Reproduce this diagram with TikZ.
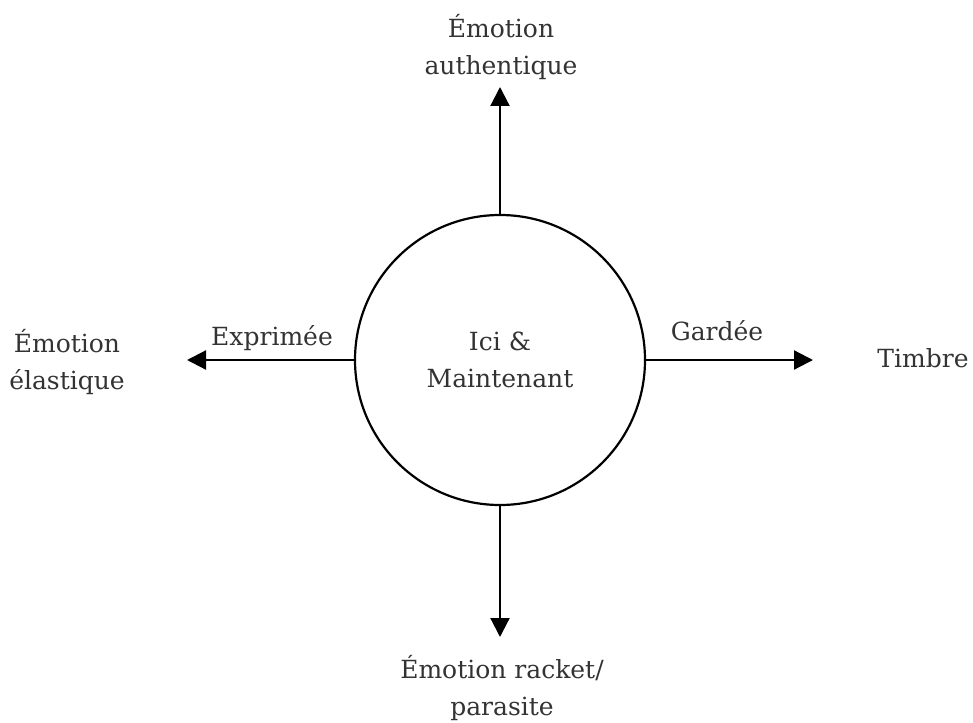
\documentclass[tikz,border=0pt]{standalone}
\usepackage{fontspec}
\setmainfont{DejaVu Serif}
\usetikzlibrary{arrows.meta}
\definecolor{txt}{HTML}{333333}
\tikzset{
  lbl/.style={text=txt, font=\fontsize{25}{37}\selectfont, align=center, inner sep=0pt},
  conn/.style={line width=2.2pt, -{Triangle[length=19pt,width=19pt]}},
}
\begin{document}
\begin{tikzpicture}[x=1pt,y=-1pt]
\useasboundingbox (0,0) rectangle (973,722);
\node[circle, draw, line width=2.2pt, minimum size=290pt, inner sep=0pt, lbl] (c) at (500,360) {Ici \&\\Maintenant};
\coordinate (tU) at (500,87);
\coordinate (tD) at (500,637);
\coordinate (tL) at (187,360);
\coordinate (tR) at (813,360);
\draw[conn] (c.north) -- (tU);
\draw[conn] (c.south) -- (tD);
\draw[conn] (c.west) -- (tL);
\draw[conn] (c.east) -- (tR);
\node[lbl, anchor=base] (auth) at (501,75) {Émotion\\authentique};
\node[lbl, anchor=base] (elas) at (67,389) {Émotion\\élastique};
\node[lbl, anchor=base] (expr) at (272,345) {Exprimée};
\node[lbl, anchor=base] (gard) at (717,340) {Gardée};
\node[lbl, anchor=base] (timb) at (923,367) {Timbre};
\node[lbl, anchor=base] (rack) at (502,715) {Émotion racket/\\parasite};
\end{tikzpicture}
\end{document}
